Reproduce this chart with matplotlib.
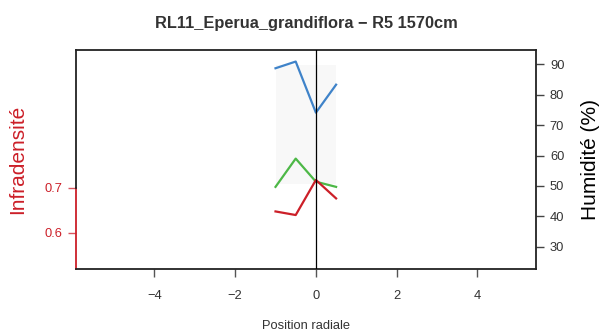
import matplotlib
matplotlib.use("Agg")
import matplotlib.pyplot as plt

# ── data ─────────────────────────────────────────────────────────────────────
positions = [-1.0, -0.5, 0.0, 0.5]
humid_blue = [88.7, 90.9, 74.1, 83.3]
humid_green = [49.7, 59.0, 51.4, 49.7]
infradens = [0.647, 0.639, 0.717, 0.676]
shade_x = [-1.0, 0.5]
shade_y = [50.5, 89.8]

x_ticks = [-4, -2, 0, 2, 4]
hum_ticks = [30, 40, 50, 60, 70, 80, 90]
inf_ticks = [0.6, 0.7]

BLUE, GREEN, RED = "#3F83C9", "#4DB847", "#CC1F28"
TXT = "#333333"

plt.rcParams["font.family"] = ["Liberation Sans", "DejaVu Sans"]

fig = plt.figure(figsize=(6.05, 3.36), dpi=100)
ax = fig.add_axes([76 / 605, 67 / 336, 460 / 605, 219 / 336])
ax2 = ax.twinx()

# left axis: infradensity
ax.set_xlim(-5.94, 5.45)
ax.set_ylim(0.519, 1.006)
ax.plot(positions, infradens, color=RED, lw=1.6, zorder=4)
ax.axvline(0, color="black", lw=0.9, zorder=5)
ax.set_yticks(inf_ticks)
ax.set_yticklabels([f"{v:.1f}" for v in inf_ticks])
ax.tick_params(axis="y", colors="#D9545E", labelcolor=RED, length=6, width=1,
               pad=4, labelsize=9.3)
ax.set_ylabel("Infradensité", color=RED, fontsize=15, labelpad=12)
ax.set_xticks(x_ticks)
ax.set_xticklabels([str(v).replace("-", "\u2212") for v in x_ticks])
ax.tick_params(axis="x", colors="#555555", labelcolor=TXT, length=6, width=1,
               pad=9, labelsize=9.3)
ax.set_xlabel("Position radiale", color=TXT, fontsize=9.3, labelpad=13)
ax.set_title("RL11_Eperua_grandiflora \u2212 R5 1570cm", fontsize=11.8,
             fontweight="bold", color=TXT, pad=16)
for s in ax.spines.values():
    s.set_color("#222222")
    s.set_linewidth(1.3)
ax.spines["left"].set_bounds(0.519, 0.7)
ax.spines["left"].set_color(RED)
ax.plot([0, 0], [0.7, 1.006], transform=ax.get_yaxis_transform(),
        color="#222222", lw=1.3, clip_on=False, zorder=6)

# right axis: humidity
ax2.set_ylim(22.7, 94.7)
ax2.fill_between(shade_x, shade_y[0], shade_y[1], color="#F8F8F8", lw=0, zorder=1)
ax2.plot(positions, humid_blue, color=BLUE, lw=1.6, zorder=3)
ax2.plot(positions, humid_green, color=GREEN, lw=1.6, zorder=3)
ax2.set_yticks(hum_ticks)
ax2.tick_params(axis="y", colors="#444444", labelcolor=TXT, length=6, width=1,
                pad=4, labelsize=9.3)
ax2.set_ylabel("Humidité (%)", color="black", fontsize=15, labelpad=12)
for s in ax2.spines.values():
    s.set_visible(False)
ax.set_zorder(ax2.get_zorder() + 1)
ax.patch.set_visible(False)

fig.savefig("out.png", dpi=100)
